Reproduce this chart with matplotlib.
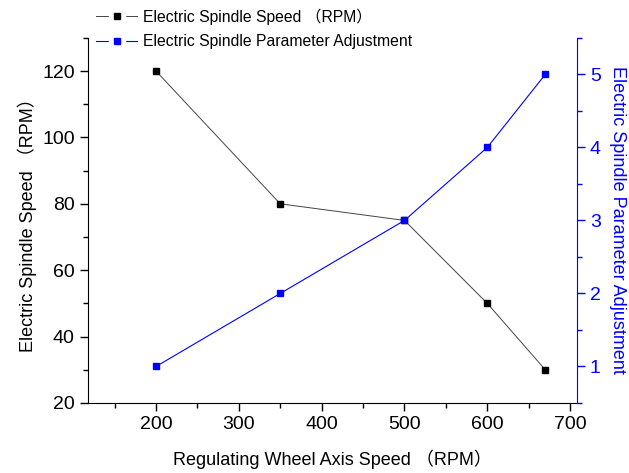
import matplotlib.pyplot as plt
from matplotlib.lines import Line2D
from matplotlib.ticker import MultipleLocator

plt.rcParams['font.family'] = ['Liberation Sans', 'Noto Sans CJK SC', 'DejaVu Sans']

# data
wheel_speed = [200, 350, 500, 600, 670]
spindle_speed = [120, 80, 75, 50, 30]
param_adjust = [1, 2, 3, 4, 5]

fig = plt.figure(figsize=(6.29, 4.73), dpi=100)
ax = fig.add_axes([0.140, 0.148, 0.777, 0.772])
ax2 = ax.twinx()

ax.plot(wheel_speed, spindle_speed, color='#444444', linewidth=0.7,
        marker='s', markersize=5, markerfacecolor='black', markeredgecolor='black')
ax2.plot(wheel_speed, param_adjust, color='blue', linewidth=0.8,
         marker='s', markersize=5, markerfacecolor='blue', markeredgecolor='blue')

ax.set_xlim(118, 708)
ax.set_ylim(20, 130)
ax2.set_ylim(0.5, 5.5)

ax.xaxis.set_major_locator(MultipleLocator(100))
ax.xaxis.set_minor_locator(MultipleLocator(50))
ax.yaxis.set_major_locator(MultipleLocator(20))
ax.yaxis.set_minor_locator(MultipleLocator(10))
ax2.yaxis.set_major_locator(MultipleLocator(1))
ax2.yaxis.set_minor_locator(MultipleLocator(0.5))

for a in (ax, ax2):
    a.spines['top'].set_visible(False)
    a.tick_params(which='major', direction='out', length=6, width=1, labelsize=14)
    a.tick_params(which='minor', direction='out', length=3.5, width=1)

ax.spines['right'].set_visible(False)
ax2.spines['left'].set_visible(False)
ax2.spines['bottom'].set_visible(False)
ax2.spines['right'].set_color('blue')
ax2.tick_params(axis='y', which='both', colors='blue')

ax.set_xlabel('Regulating Wheel Axis Speed （RPM）', fontsize=13, labelpad=12)
ax.set_ylabel('Electric Spindle Speed （RPM）', fontsize=13, labelpad=4)
ax2.set_ylabel('Electric Spindle Parameter Adjustment', fontsize=13,
               color='blue', rotation=270, labelpad=18)


# legend handles: line with a gap around the square marker
def legend_handle(line_color, mark_color, lw):
    line = Line2D([], [], color=line_color, linewidth=lw)
    gap = Line2D([], [], linestyle='none', marker='s', markersize=11,
                 markerfacecolor='white', markeredgecolor='white')
    mark = Line2D([], [], linestyle='none', marker='s', markersize=5,
                  markerfacecolor=mark_color, markeredgecolor=mark_color)
    return (line, gap, mark)


fig.legend(handles=[legend_handle('#444444', 'black', 0.7), legend_handle('blue', 'blue', 0.8)],
           labels=['Electric Spindle Speed （RPM）', 'Electric Spindle Parameter Adjustment'],
           loc='upper left', bbox_to_anchor=(0.153, 0.982), frameon=False,
           fontsize=11.3, handlelength=2.6, handletextpad=0.4,
           labelspacing=0.6, borderpad=0, borderaxespad=0)

fig.savefig('out.png', dpi=100)
